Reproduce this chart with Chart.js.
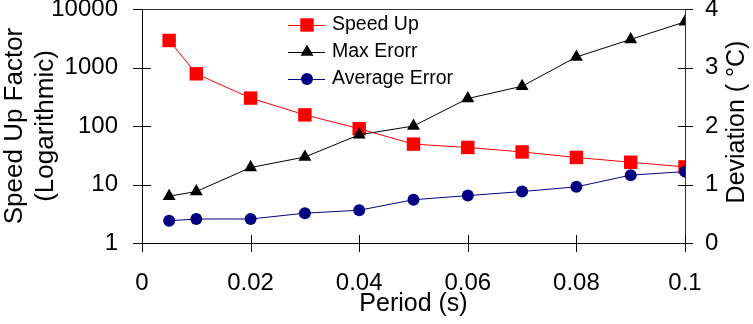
<!DOCTYPE html>
<html>
<head>
<meta charset="utf-8">
<script src="https://cdn.jsdelivr.net/npm/chart.js@4.4.0/dist/chart.umd.min.js"></script>
<style>
  html, body { margin: 0; padding: 0; background: #fff; }
</style>
</head>
<body>
<canvas id="speedChart" width="753" height="324"></canvas>
<script>
const periods = [0.005, 0.01, 0.02, 0.03, 0.04, 0.05, 0.06, 0.07, 0.08, 0.09, 0.1];
const speedUp = [2900, 780, 300, 155, 90, 49, 43, 36, 29, 24, 20];
const maxError = [0.80, 0.88, 1.29, 1.47, 1.85, 2.0, 2.47, 2.68, 3.18, 3.48, 3.78];
const avgError = [0.38, 0.41, 0.41, 0.51, 0.56, 0.74, 0.81, 0.88, 0.96, 1.16, 1.22];

const xTicks = [0, 0.02, 0.04, 0.06, 0.08, 0.1];
const speedTicks = [1, 10, 100, 1000, 10000];
const devTicks = [0, 1, 2, 3, 4];

const FONT = '"Liberation Sans", Arial, sans-serif';

const toPoints = (ys) => periods.map((p, i) => ({ x: p, y: ys[i] }));

// tick marks that cross the axis lines, plus the top frame line
const crossTicks = {
    id: 'crossTicks',
    beforeDatasetsDraw(chart) {
        const { ctx, chartArea: a, scales } = chart;
        ctx.save();
        ctx.lineWidth = 1;
        ctx.strokeStyle = '#000';
        ctx.beginPath();
        scales.x.ticks.forEach(t => {
            const px = Math.round(scales.x.getPixelForValue(t.value)) + 0.5;
            ctx.moveTo(px, a.bottom - 8);
            ctx.lineTo(px, a.bottom + 9);
        });
        scales.y.ticks.forEach(t => {
            const py = Math.round(scales.y.getPixelForValue(t.value)) + 0.5;
            ctx.moveTo(a.left - 9, py);
            ctx.lineTo(a.left + 9, py);
        });
        scales.y1.ticks.forEach(t => {
            const py = Math.round(scales.y1.getPixelForValue(t.value)) + 0.5;
            ctx.moveTo(a.right - 7, py);
            ctx.lineTo(a.right + 8, py);
        });
        ctx.stroke();
        ctx.strokeStyle = '#333';
        ctx.beginPath();
        ctx.moveTo(a.left, a.top + 0.5);
        ctx.lineTo(a.right, a.top + 0.5);
        ctx.stroke();
        ctx.restore();
    },
    afterDraw(chart) {
        const { ctx } = chart;
        // right axis title reads bottom to top
        ctx.save();
        ctx.translate(737, 122);
        ctx.rotate(-Math.PI / 2);
        ctx.font = '25px ' + FONT;
        ctx.fillStyle = '#000';
        ctx.textAlign = 'center';
        ctx.textBaseline = 'middle';
        ctx.fillText('Deviation ( °C)', 0, 0);
        ctx.restore();

        // legend inside the plot
        ctx.save();
        ctx.font = '19.5px ' + FONT;
        ctx.textBaseline = 'middle';
        ctx.fillStyle = '#000';
        const rows = [25, 52, 79];
        chart.data.datasets.forEach((ds, i) => {
            const y = rows[i];
            ctx.strokeStyle = ds.borderColor;
            ctx.lineWidth = 1;
            ctx.beginPath();
            ctx.moveTo(288, y + 0.5);
            ctx.lineTo(325, y + 0.5);
            ctx.stroke();
            ctx.fillStyle = ds.backgroundColor;
            Chart.helpers.drawPoint(ctx, { pointStyle: ds.pointStyle, radius: ds.pointRadius, rotation: 0, borderWidth: 0 }, 307, y);
            ctx.fillStyle = '#000';
            ctx.fillText(ds.label, 332, y);
        });
        ctx.restore();
    }
};

const noPad = scale => {
    scale.paddingTop = 0;
    scale.paddingBottom = 0;
    scale.paddingLeft = 0;
    scale.paddingRight = 0;
};

const ctx = document.getElementById('speedChart').getContext('2d');
new Chart(ctx, {
    type: 'line',
    data: {
        datasets: [
            { label: 'Speed Up', data: toPoints(speedUp), yAxisID: 'y', order: 3,
              borderColor: '#ff0000', backgroundColor: '#ff0000', borderWidth: 1,
              pointStyle: 'rect', pointRadius: 9.5, pointBorderWidth: 0 },
            { label: 'Max Erorr', data: toPoints(maxError), yAxisID: 'y1', order: 2,
              borderColor: '#000000', backgroundColor: '#000000', borderWidth: 1,
              pointStyle: 'triangle', pointRadius: 7.5, pointBorderWidth: 0 },
            { label: 'Average Error', data: toPoints(avgError), yAxisID: 'y1', order: 1,
              borderColor: '#000080', backgroundColor: '#000080', borderWidth: 1,
              pointStyle: 'circle', pointRadius: 6, pointBorderWidth: 0 }
        ]
    },
    options: {
        responsive: false,
        animation: false,
        layout: { autoPadding: false, padding: { top: 9, left: 0, right: 0, bottom: 0 } },
        plugins: { legend: { display: false }, tooltip: { enabled: false } },
        scales: {
            x: {
                type: 'linear',
                min: 0,
                max: 0.1,
                afterBuildTicks: axis => { axis.ticks = xTicks.map(v => ({ value: v })); },
                afterFit: scale => { scale.height = 81; noPad(scale); },
                grid: { display: false, drawTicks: false },
                border: { display: true, color: '#000', width: 1 },
                ticks: {
                    padding: 26,
                    color: '#000',
                    font: { family: FONT, size: 24 },
                    callback: v => String(+v.toFixed(2))
                },
                title: {
                    display: true,
                    text: 'Period (s)',
                    color: '#000',
                    font: { family: FONT, size: 25 },
                    padding: { top: 0, bottom: 5 }
                }
            },
            y: {
                type: 'logarithmic',
                position: 'left',
                min: 1,
                max: 10000,
                afterBuildTicks: axis => { axis.ticks = speedTicks.map(v => ({ value: v })); },
                afterFit: scale => { scale.width = 142; noPad(scale); },
                grid: { display: false, drawTicks: false },
                border: { display: true, color: '#000', width: 1 },
                ticks: {
                    padding: 24,
                    color: '#000',
                    font: { family: FONT, size: 24 },
                    callback: v => String(v)
                },
                title: {
                    display: true,
                    text: ['Speed Up Factor', '(Logarithmic)'],
                    color: '#000',
                    font: { family: FONT, size: 26, lineHeight: 1.2 },
                    padding: { top: -1, bottom: 0 }
                }
            },
            y1: {
                type: 'linear',
                position: 'right',
                min: 0,
                max: 4,
                afterBuildTicks: axis => { axis.ticks = devTicks.map(v => ({ value: v })); },
                afterFit: scale => { scale.width = 68; noPad(scale); },
                grid: { display: false, drawTicks: false },
                border: { display: true, color: '#333', width: 1 },
                ticks: {
                    padding: 20,
                    color: '#000',
                    font: { family: FONT, size: 24 }
                }
            }
        }
    },
    plugins: [crossTicks]
});
</script>
</body>
</html>
